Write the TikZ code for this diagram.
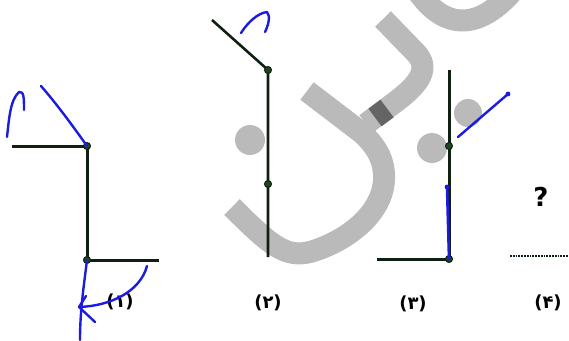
\documentclass[tikz,border=0pt]{standalone}
\usepackage{fontspec}
\newfontfamily\fa[Script=Arabic]{DejaVu Sans}
\definecolor{wm}{RGB}{186,186,186}
\definecolor{wmdark}{RGB}{100,100,100}
\definecolor{ink}{RGB}{16,32,16}
\definecolor{dotfill}{RGB}{30,70,30}
\definecolor{pencol}{RGB}{28,28,225}
\begin{document}
\begin{tikzpicture}[x=1pt,y=-1pt,
  seg/.style={draw=ink,line width=3},
  dotnode/.style={circle,inner sep=0pt,minimum size=7pt,fill=dotfill,draw=ink,line width=1pt},
  wmark/.style={draw=wm,line width=22pt,line join=round},
  blob/.style={fill=wm},
  penline/.style={draw=pencol,line width=2.4pt,line cap=round,line join=round},
  lab/.style={font=\fa\bfseries\fontsize{18}{18}\selectfont,inner sep=0pt},
]
\useasboundingbox (0,0) rectangle (569,340);
% watermark
\begin{scope}
\clip (0,0) rectangle (569,340);
\draw[wmark] (232,207) .. controls (270,245) and (285,258) .. (310,252)
  .. controls (345,242) and (382,215) .. (384,180)
  .. controls (385,160) and (376,146) .. (362,133) -- (307,91);
\draw[wmark] (366,124) -- (398,100) .. controls (420,83) and (430,68) .. (416,53) -- (383,19);
\draw[draw=wmdark,line width=22pt] (375,117.5) -- (387,108.5);
\draw[wmark] (418,-8) .. controls (445,30) and (478,30) .. (512,-8);
\fill[blob] (250,140) circle (15);
\fill[blob] (432,148) circle (15);
\fill[blob] (468,113) circle (14);
\end{scope}
% figure 1
\coordinate (l1) at (12,146);
\coordinate (a1) at (87,146);
\coordinate (b1) at (87,260);
\coordinate (r1) at (159,260);
\draw[seg] (l1) -- (a1) -- (b1) -- (r1);
\node[dotnode] (da1) at (a1) {};
\node[dotnode] (db1) at (b1) {};
% figure 2
\coordinate (t2) at (212,20);
\coordinate (a2) at (268,70);
\coordinate (m2) at (268,184);
\coordinate (b2) at (268,257);
\draw[seg,line width=2.6pt] (t2) -- (a2) -- (b2);
\node[dotnode] (da2) at (a2) {};
\node[dotnode] (dm2) at (m2) {};
% figure 3
\coordinate (t3) at (449,70);
\coordinate (a3) at (449,146);
\coordinate (b3) at (449,259);
\coordinate (l3) at (377,259);
\draw[seg] (t3) -- (b3) -- (l3);
\node[dotnode] (da3) at (a3) {};
\node[dotnode] (db3) at (b3) {};
% figure 4
\node[font=\fa\bfseries\fontsize{26}{26}\selectfont,inner sep=0pt] (q) at (541,197) {?};
\coordinate (d4s) at (510,256);
\coordinate (d4e) at (569,256);
\draw[ink,line width=2.8pt,dash pattern=on 1.8pt off 1pt] (d4s) -- (d4e);
% labels
\node[lab] (n1) at (120,302) {(۱)};
\node[lab] (n2) at (268,303) {(۲)};
\node[lab] (n3) at (413,304) {(۳)};
\node[lab] (n4) at (548,303) {(۴)};
% blue pen strokes
\coordinate (p1) at (41,86);
\draw[penline] (a1) .. controls (70,122) and (55,102) .. (p1);
\coordinate (h1s) at (7,137);
\coordinate (h1t) at (19,92);
\coordinate (h1e) at (24,110);
\draw[penline] (h1s) .. controls (9,120) and (10,100) .. (h1t) .. controls (24,91) and (24,98) .. (h1e);
\coordinate (v1e) at (80,340);
\draw[penline] (b1) .. controls (84,285) and (80,310) .. (v1e);
\coordinate (k1a) at (86,296);
\coordinate (k1b) at (79,307);
\coordinate (k1c) at (95,322);
\draw[penline] (k1a) -- (k1b) -- (k1c);
\coordinate (arc1e) at (147,266);
\draw[penline] (k1b) .. controls (110,306) and (140,292) .. (arc1e);
\coordinate (h2s) at (241,33);
\coordinate (h2t) at (267,12);
\coordinate (h2e) at (265,32);
\draw[penline] (h2s) .. controls (248,22) and (258,13) .. (h2t) .. controls (271,16) and (268,26) .. (h2e);
\coordinate (s3a) at (458,137);
\coordinate (s3b) at (508,94);
\draw[penline] (s3a) -- (s3b);
\fill[pencol] (s3b) circle (2.4);
\coordinate (u3) at (447,187);
\draw[penline,line width=2.6pt] (b3) -- (u3);
\fill[pencol] (u3) circle (2.4);
\end{tikzpicture}
\end{document}
